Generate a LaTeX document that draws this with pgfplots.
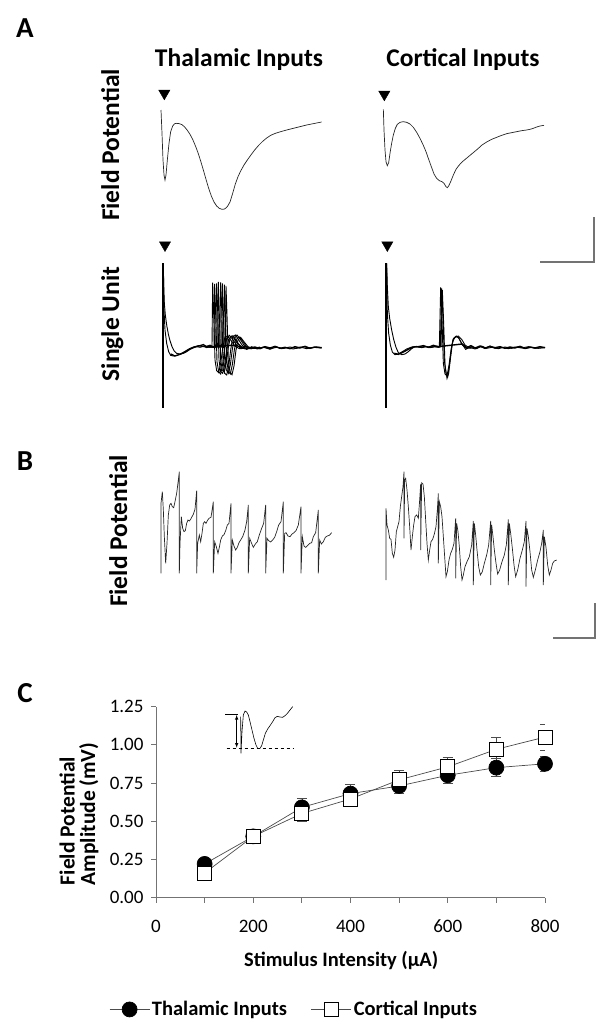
\documentclass[border=0pt]{standalone}
\usepackage{pgfplots}
\pgfplotsset{compat=1.18}
\usepackage{fontspec}
\setmainfont{Carlito}

\definecolor{tracecol}{gray}{0.15}
\definecolor{axisgray}{gray}{0.45}

% hidden axes for the raw traces; units are local to each trace box, y runs down
\pgfplotsset{
  trace/.style={hide axis, scale only axis, clip=false, anchor=north west,
    y dir=reverse, xmin=0, ymin=0, enlargelimits=false},
  stim/.style={only marks, mark=triangle*, mark size=6.5pt,
    mark options={rotate=180, fill=black, draw=black}},
  fp/.style={tracecol, line width=0.7pt, mark=none},
  su/.style={black, line width=0.9pt, mark=none},
}

\begin{document}
\begin{tikzpicture}
\useasboundingbox (0pt,0pt) rectangle (609pt,-1036pt);
\tikzset{big/.style={font=\bfseries\fontsize{25.5}{28}\selectfont},
         letter/.style={font=\bfseries\fontsize{29}{30}\selectfont, anchor=base}}

% ---------------- panel labels and titles
\node[letter] at (25pt,-37pt) {A};
\node[letter] at (25pt,-470pt) {B};
\node[letter] at (25pt,-702pt) {C};
\node[big, anchor=base] at (239pt,-66pt) {Thalamic Inputs};
\node[big, anchor=base] at (463pt,-66pt) {Cortical Inputs};
\node[big, rotate=90, anchor=base] at (119pt,-145pt) {Field Potential};
\node[big, rotate=90, anchor=base] at (119pt,-324pt) {Single Unit};
\node[big, rotate=90, anchor=base] at (127pt,-531pt) {Field Potential};

% ---------------- A: field potential, thalamic
\begin{axis}[trace, at={(150pt,-80pt)}, width=200pt, height=150pt, xmax=600, ymax=450]
\addplot[fp] coordinates {
 (33,90) (36,160) (39,240) (42,285) (45,300) (48,285) (52,240) (57,190)
 (62,155) (68,138) (74,131) (80,130) (88,131) (96,134) (104,141) (112,151)
 (120,163) (128,178) (136,197) (144,218) (152,243) (160,270) (168,298)
 (176,325) (184,348) (192,366) (200,378) (208,385) (216,388) (224,387)
 (232,380) (240,366) (248,340) (256,312) (264,290) (272,273) (282,255)
 (292,240) (302,226) (314,210) (326,196) (338,184) (350,174) (362,166)
 (376,160) (392,155) (410,150) (430,145) (450,140) (470,135) (490,131)
 (505,128) (515,126)
};
\addplot[stim] coordinates {(43,40)};
\end{axis}

% ---------------- A: field potential, cortical
\begin{axis}[trace, at={(370pt,-80pt)}, width=200pt, height=150pt, xmax=600, ymax=450]
\addplot[fp] coordinates {
 (40,88) (42,150) (45,210) (48,245) (52,257) (56,248) (60,220) (65,190)
 (70,165) (76,145) (82,133) (90,127) (100,125) (110,127) (120,132) (130,142)
 (140,157) (150,175) (160,196) (168,215) (176,238) (184,260) (192,282)
 (200,295) (208,302) (216,305) (222,310) (228,320) (232,323) (236,318)
 (242,305) (250,285) (258,268) (266,257) (276,246) (288,236) (300,226)
 (312,216) (324,206) (336,195) (350,186) (365,178) (380,172) (395,166)
 (410,161) (425,158) (440,155) (455,152) (470,150) (480,148) (490,145)
 (500,141) (510,138) (522,136)
};
\addplot[stim] coordinates {(43,43)};
\end{axis}

% ---------------- A: single unit, thalamic (overlaid sweeps)
\begin{axis}[trace, at={(150pt,-250pt)}, width=190pt, height=170pt, xmax=570, ymax=510]
\addplot[black, line width=2pt] coordinates {(38,40) (38,475)};
\addplot[su] coordinates {
 (40,40) (41,100) (43,160) (46,195) (50,225) (55,252) (60,272) (66,290)
 (72,302) (80,310) (90,312) (100,310) (110,305) (120,298) (130,292) (140,290)
 (150,292) (160,289) (170,293) (180,290) (190,292) (197,290) (200,100)
 (203,180) (207,330) (212,365) (218,370) (224,345) (230,300) (236,268)
 (244,258) (252,265) (262,280) (275,290) (290,296) (305,293) (320,295)
 (340,292) (360,296) (380,292) (400,295) (420,291) (440,295) (460,290)
 (480,294) (500,291) (515,293)
};
\addplot[su] coordinates {
 (40,40) (42,180) (45,240) (50,280) (56,305) (62,316) (70,318) (80,316)
 (92,312) (105,304) (118,296) (130,291) (145,287) (160,290) (175,288)
 (190,292) (205,289) (209,291) (212,97) (215,170) (219,330) (224,370)
 (230,375) (236,350) (242,300) (248,262) (256,255) (265,268) (276,285)
 (290,298) (305,290) (322,297) (340,291) (360,298) (378,290) (395,296)
 (410,293) (430,297) (450,291) (470,296) (490,292) (515,294)
};
\addplot[su, line width=1.4pt] coordinates {
 (62,312) (75,318) (90,313) (105,306) (120,297) (135,291) (150,287) (160,284)
 (170,290) (180,286) (190,291) (200,287) (260,286) (275,294) (285,289)
 (300,295) (315,291) (330,296) (345,290) (360,294) (375,289) (390,295)
 (405,292) (420,296) (435,290) (450,294) (465,289) (480,295) (495,291)
 (515,293)
};
\addplot[su] coordinates {(175,290) (182,291) (186,289) (188,98) (191,190) (195,330) (200,362) (206,368) (212,340) (218,295) (224,265) (232,258) (242,270) (254,288) (268,296) (330,293)};
\addplot[su] coordinates {(175,291) (188,289) (192,292) (194,102) (197,190) (201,335) (206,365) (212,372) (218,342) (224,296) (230,266) (238,256) (248,268) (260,286) (274,295) (330,292)};
\addplot[su] coordinates {(175,289) (199,292) (203,288) (205,96) (208,195) (212,330) (217,360) (223,366) (229,338) (235,292) (241,262) (249,257) (259,272) (271,289) (285,297) (330,294)};
\addplot[su] coordinates {(175,292) (211,290) (215,291) (217,100) (220,185) (224,325) (229,360) (235,370) (241,345) (247,298) (253,266) (261,255) (271,268) (283,287) (297,295) (330,292)};
\addplot[su] coordinates {(175,290) (217,289) (221,292) (223,104) (226,190) (230,330) (235,364) (241,372) (247,344) (253,300) (259,268) (267,260) (277,272) (289,289) (303,296) (330,293)};
\addplot[su] coordinates {(175,291) (222,291) (226,289) (228,108) (231,195) (235,335) (240,366) (246,374) (252,348) (258,300) (264,270) (272,262) (282,275) (294,290) (308,295) (330,292)};
\addplot[stim] coordinates {(45,-15)};
\end{axis}

% ---------------- A: single unit, cortical
\begin{axis}[trace, at={(375pt,-250pt)}, width=190pt, height=170pt, xmax=570, ymax=510]
\addplot[black, line width=2pt] coordinates {(33,40) (33,475)};
\addplot[su] coordinates {
 (35,40) (37,110) (40,170) (44,205) (50,240) (56,268) (63,292) (70,308)
 (80,314) (90,312) (100,305) (110,296) (120,290) (135,292) (150,289)
 (165,293) (180,290) (190,292) (196,288) (200,115) (204,200) (208,330)
 (213,370) (218,380) (224,340) (230,290) (236,265) (244,258) (252,265)
 (262,285) (275,295) (290,290) (305,296) (320,288) (335,295) (350,292)
 (370,296) (390,291) (410,295) (430,290) (450,296) (470,292) (490,295)
 (510,293)
};
\addplot[su] coordinates {
 (35,40) (37,190) (41,250) (46,285) (52,306) (60,314) (70,312) (82,305)
 (95,297) (110,291) (125,289) (140,293) (155,290) (170,292) (185,288)
 (193,291) (197,112) (201,210) (205,340) (210,372) (216,378) (222,345)
 (228,300) (234,268) (242,260) (250,262) (260,280) (272,298) (285,292)
 (300,297) (315,290) (330,294) (345,288) (360,295) (380,292) (400,296)
 (420,291) (440,294) (460,290) (480,295) (510,292)
};
\addplot[su, line width=1.4pt] coordinates {
 (58,310) (70,313) (85,306) (100,298) (115,291) (130,290) (145,287) (160,292)
 (175,286) (188,290) (262,282) (275,293) (288,287) (300,294) (315,288)
 (330,295) (345,289) (360,293) (375,290) (390,295) (405,291) (420,294)
 (435,289) (450,295) (465,291) (480,294) (495,290) (510,293)
};
\addplot[su] coordinates {(170,290) (198,291) (202,120) (206,220) (210,345) (216,385) (221,370) (227,320) (233,275) (240,262) (250,258) (260,268) (270,285) (285,295) (300,292)};
\addplot[stim] coordinates {(37,-15)};
% scale bar
\addplot[axisgray, line width=1.3pt] coordinates {(495,36) (657,36) (657,-99)};
\end{axis}

% ---------------- B: train, thalamic
\begin{axis}[trace, at={(150pt,-460pt)}, width=190pt, height=130pt, xmax=570, ymax=390]
\addplot[fp] coordinates {
 (33,340) (33,130) (37,95) (40,150) (43,230) (47,310) (51,250) (55,165)
 (59,135) (63,130) (67,140) (71,143) (75,125) (80,100) (85,60) (88,35)
 (88,340) (90,250) (94,170) (98,205) (102,215) (106,212) (110,190) (114,180)
 (118,183) (122,178) (126,170) (130,163) (135,148) (140,92) (140,340)
 (143,250) (148,225) (152,245) (156,220) (160,190) (164,185) (168,190)
 (172,182) (177,175) (183,172) (190,125) (190,340) (194,245) (199,260)
 (204,280) (208,262) (212,240) (217,228) (222,224) (227,212) (232,195)
 (237,190) (243,130) (243,340) (247,240) (252,258) (257,270) (262,262)
 (267,248) (272,240) (278,230) (285,210) (290,185) (295,135) (295,340)
 (299,235) (304,248) (310,262) (316,252) (322,245) (328,225) (335,205)
 (341,190) (347,135) (347,340) (351,235) (356,242) (362,246) (368,240)
 (374,232) (380,215) (386,195) (393,185) (400,125) (400,340) (404,220)
 (408,218) (414,228) (420,230) (426,222) (432,218) (438,212) (445,195)
 (453,140) (453,340) (457,230) (462,258) (467,262) (473,256) (479,250)
 (485,248) (490,230) (497,218) (505,150) (505,340) (509,240) (514,252)
 (520,245) (526,232) (532,228) (538,226) (545,218)
};
\end{axis}

% ---------------- B: train, cortical
\begin{axis}[trace, at={(375pt,-460pt)}, width=190pt, height=130pt, xmax=570, ymax=390]
\addplot[fp] coordinates {
 (33,360) (33,145) (36,195) (40,210) (44,235) (48,238) (52,280) (56,292)
 (60,270) (64,215) (68,200) (72,185) (76,140) (80,110) (84,80) (87,35)
 (87,235) (89,60) (92,55) (96,90) (100,140) (104,200) (108,270) (112,230)
 (116,195) (120,170) (125,165) (130,175) (134,120) (137,72) (137,270)
 (140,68) (144,72) (148,110) (152,180) (156,250) (160,300) (164,270)
 (168,245) (173,238) (178,222) (183,200) (187,150) (190,100) (190,310)
 (193,125) (197,140) (201,170) (205,230) (209,290) (213,350) (217,335)
 (222,300) (227,280) (232,268) (237,250) (242,175) (242,355) (245,190)
 (249,215) (253,260) (257,320) (261,360) (265,345) (270,320) (276,305)
 (283,290) (290,255) (295,183) (295,375) (298,190) (302,225) (306,270)
 (311,320) (316,345) (322,335) (328,310) (335,285) (341,255) (347,183)
 (347,375) (350,195) (354,230) (358,270) (363,310) (368,342) (374,330)
 (381,305) (388,285) (394,255) (400,178) (400,375) (403,190) (407,220)
 (412,265) (417,315) (422,350) (428,330) (435,295) (442,270) (448,245)
 (453,183) (453,380) (456,205) (460,230) (465,275) (470,330) (475,352)
 (481,330) (488,300) (495,275) (500,250) (505,210) (505,375) (508,230)
 (513,262) (518,315) (523,345) (528,330) (533,310) (538,303) (545,300)
};
% scale bar
\addplot[axisgray, line width=1.3pt] coordinates {(534,534) (660,534) (660,429)};
\end{axis}

% ---------------- C: input-output curve
\begin{axis}[
  at={(156pt,-897.5pt)}, anchor=south west,
  scale only axis, width=389pt, height=191pt,
  xmin=0, xmax=800, ymin=0, ymax=1.25,
  axis x line=bottom, axis y line=left,
  axis line style={-, axisgray, line width=0.8pt},
  xtick={0,100,...,800}, xticklabels={0,,200,,400,,600,,800},
  ytick={0,0.25,0.5,0.75,1,1.25},
  tick align=outside, major tick length=5pt,
  tick style={axisgray, line width=0.8pt},
  /pgf/number format/assume math mode=true,
  ticklabel style={font=\fontsize{19}{22}\selectfont},
  xticklabel style={anchor=base, text height=12pt, text depth=0pt, yshift=-30pt},
  yticklabel style={xshift=-4pt, /pgf/number format/.cd, fixed, fixed zerofill, precision=2},
  xlabel={Stimulus Intensity (µA)},
  ylabel={Field Potential\\Amplitude (mV)},
  label style={font=\bfseries\fontsize{21.5}{20.5}\selectfont},
  xlabel style={at={(axis description cs:0.476,-0.33)}, anchor=center, font=\bfseries\fontsize{20.5}{22}\selectfont},
  ylabel style={at={(axis description cs:-0.198,0.438)}, anchor=center, align=left},
  legend columns=2,
  legend style={at={(axis description cs:0.355,-0.586)}, anchor=center,
    draw=none, fill=none, font=\bfseries\fontsize{20.5}{22}\selectfont},
  legend cell align=left,
  /tikz/every even column/.append style={column sep=22pt},
  legend image code/.code={\draw[mark repeat=2, mark phase=2]
    plot coordinates {(0pt,0pt) (20pt,0pt) (40pt,0pt)};},
]
\addplot[gray!60!black, line width=0.7pt, mark=*, mark size=7.5pt,
  mark options={fill=black, draw=black},
  error bars/.cd, y dir=both, y explicit,
  error bar style={gray!60!black, line width=0.7pt},
  error mark options={rotate=90, mark size=5pt, gray!60!black, line width=0.7pt},
  ] coordinates {
  (100,0.22) +- (0,0.03)
  (200,0.40) +- (0,0.03)
  (300,0.59) +- (0,0.06)
  (400,0.68) +- (0,0.06)
  (500,0.73) +- (0,0.05)
  (600,0.80) +- (0,0.05)
  (700,0.85) +- (0,0.06)
  (800,0.875) +- (0,0.05)
};
\addplot[gray!60!black, line width=0.7pt, mark=square*, mark size=7pt,
  mark options={fill=white, draw=black, line width=0.8pt},
  error bars/.cd, y dir=both, y explicit,
  error bar style={gray!60!black, line width=0.7pt},
  error mark options={rotate=90, mark size=5pt, gray!60!black, line width=0.7pt},
  ] coordinates {
  (100,0.16) +- (0,0.03)
  (200,0.40) +- (0,0.04)
  (300,0.55) +- (0,0.05)
  (400,0.645) +- (0,0.05)
  (500,0.77) +- (0,0.06)
  (600,0.855) +- (0,0.06)
  (700,0.97) +- (0,0.08)
  (800,1.05) +- (0,0.085)
};
\addlegendimage{gray, line width=0.7pt, mark=*, mark size=5.5pt, mark options={fill=black, draw=black}}
\addlegendentry{Thalamic Inputs}
\addlegendimage{gray, line width=0.7pt, mark=square*, mark size=5.5pt, mark options={fill=white, draw=black}}
\addlegendentry{Cortical Inputs}
\end{axis}

% ---------------- C: inset showing how the amplitude is measured
\begin{axis}[trace, at={(220pt,-705pt)}, width=100pt, height=80pt, xmax=300, ymax=240]
\addplot[black, line width=0.6pt] coordinates {(15,28) (55,28)};
\addplot[black, dashed, line width=0.6pt] coordinates {(20,130) (220,130)};
\addplot[black, line width=0.6pt, latex-latex] coordinates {(50,30) (50,128)};
\addplot[black, line width=0.6pt] coordinates {
 (62,35) (63,145) (66,80) (70,30) (75,18) (80,21) (85,30) (90,50) (96,75)
 (102,100) (108,120) (113,130) (120,130) (125,122) (130,105) (136,85)
 (143,72) (150,62) (158,50) (165,38) (172,34) (180,36) (188,37) (195,32)
 (203,24) (210,15) (218,5)
};
\end{axis}
\end{tikzpicture}
\end{document}
